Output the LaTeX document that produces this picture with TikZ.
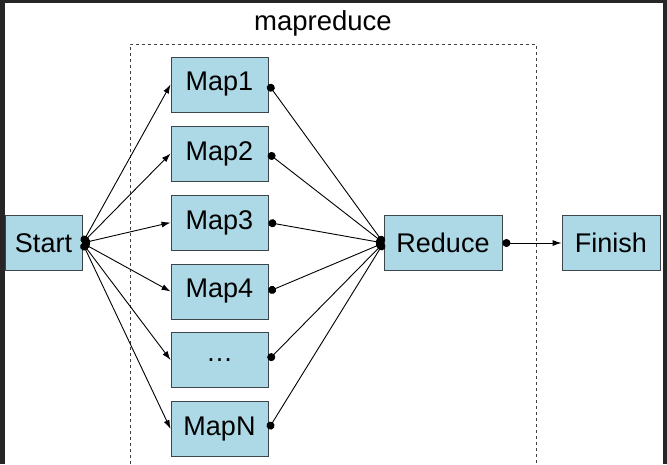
\documentclass[tikz,border=0pt]{standalone}
\usepackage{fontspec}
\setmainfont{Liberation Sans}
\usetikzlibrary{arrows.meta, positioning}
\definecolor{boxblue}{RGB}{173,216,230}
\definecolor{boxedge}{RGB}{60,70,75}

\begin{document}
\begin{tikzpicture}[x=1pt, y=-1pt,
    box/.style={draw=boxedge, line width=0.9pt, fill=boxblue, minimum height=55pt, inner sep=0pt,
        font=\fontsize{27}{32}\selectfont},
    fanout/.style={line width=0.9pt, {Circle[length=8pt]}-{Latex[length=9pt,width=6pt]}},
    fanin/.style={line width=0.9pt, {Circle[length=8pt]}-{Circle[length=8pt]}}]
    \useasboundingbox (0,0) rectangle (667,464);
    % dark screen edges
    \fill[black!85] (0,0) rectangle (667,464);
    \fill[white] (5,3) rectangle (663,464);
    % mapreduce frame
    \draw[dashed, line width=0.8pt, black!75] (130,464) -- (130,44) -- (536,44) -- (536,464);
    \node (title) at (323,23) {\fontsize{27.5}{32}\selectfont mapreduce};
    \node[box, minimum width=77pt] (start) at (43.5,243) {Start};
    \node[box, minimum width=118pt] (reduce) at (443,243) {Reduce};
    \node[box, minimum width=98pt] (finish) at (611,243) {Finish};
    % map boxes
    \foreach \y/\n/\t in {84.5/1/Map1, 153.5/2/Map2, 222.5/3/Map3,
                          291.5/4/Map4, 360/5/\dots, 429/6/MapN} {
        \node[box, minimum width=97pt] (map\n) at (219.5,\y) {\t};
        \draw[fanout] (start.east) -- (map\n.west);
        \draw[fanin] (map\n.east) -- (reduce.west);
    }
    \draw[fanout] (reduce.east) -- (finish.west);
\end{tikzpicture}
\end{document}
